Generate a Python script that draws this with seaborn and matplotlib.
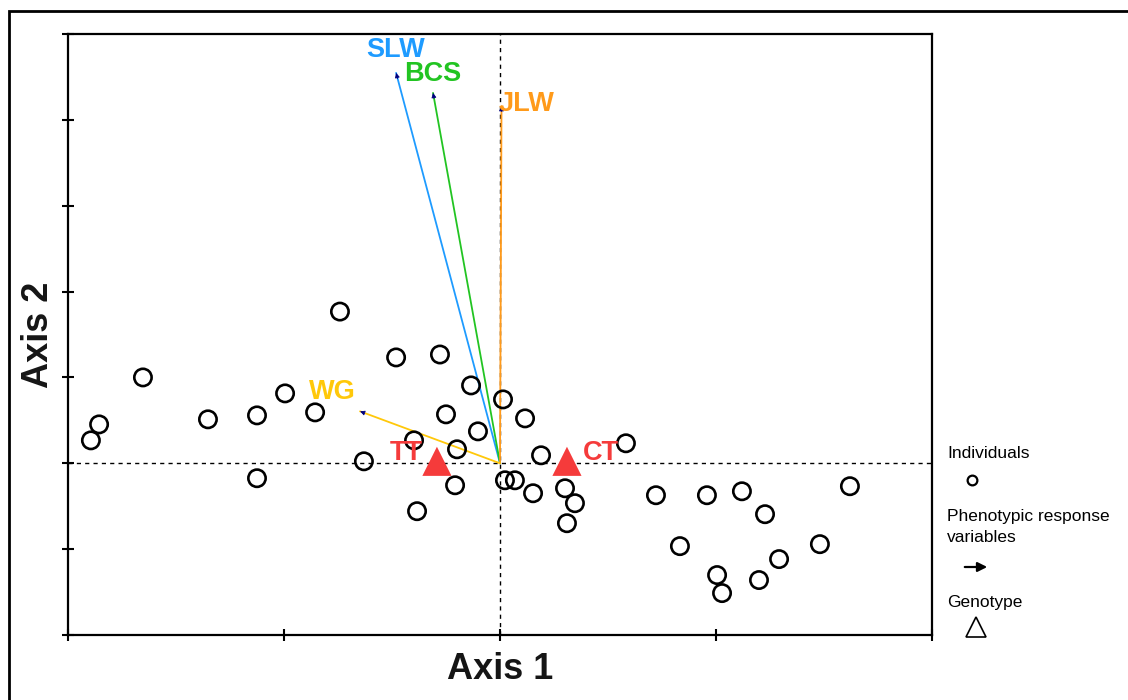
import matplotlib
matplotlib.use("Agg")
import matplotlib.pyplot as plt
import seaborn as sns
import pandas as pd
from matplotlib.patches import Rectangle, FancyArrowPatch
from matplotlib.lines import Line2D

# ---------------- data ----------------
ind_x = [-1.894, -1.856, -1.653, -1.352, -1.125, -1.125, -0.995, -0.856, -0.741, -0.630,
         -0.481, -0.398, -0.384, -0.278, -0.250, -0.199, -0.208, -0.134, -0.102, 0.014,
         0.116, 0.023, 0.069, 0.153, 0.190, 0.301, 0.347, 0.310, 0.583, 0.722,
         0.833, 0.958, 1.005, 1.028, 1.120, 1.227, 1.199, 1.292, 1.481, 1.620]
ind_y = [0.267, 0.453, 1.000, 0.512, 0.558, -0.174, 0.814, 0.593, 1.767, 0.023,
         1.233, 0.267, -0.558, 1.267, 0.570, 0.163, -0.256, 0.907, 0.372, 0.744,
         0.523, -0.198, -0.198, -0.349, 0.093, -0.291, -0.465, -0.698, 0.233, -0.372,
         -0.965, -0.372, -1.302, -1.512, -0.326, -0.593, -1.360, -1.116, -0.942, -0.267]

geno_names = ["TT", "CT"]
geno_x = [-0.292, 0.310]
geno_y = [0.023, 0.023]

var_names = ["SLW", "BCS", "JLW", "WG"]
var_x = [-0.481, -0.310, 0.007, -0.648]
var_y = [4.547, 4.314, 4.160, 0.605]
var_colors = ["#1e9bff", "#22c422", "#ff9a1a", "#ffc80a"]

ind_df = pd.DataFrame({"x": ind_x, "y": ind_y})
geno_df = pd.DataFrame({"x": geno_x, "y": geno_y, "g": geno_names})

# ---------------- figure ----------------
sns.set_theme(style="white")
plt.rcParams["font.family"] = ["Liberation Sans", "DejaVu Sans"]

W, H = 1128, 700
fig = plt.figure(figsize=(W / 100, H / 100), dpi=100)
ax = fig.add_axes([68 / W, 1 - 635 / H, (932 - 68) / W, (635 - 34) / H])

ax.set_xlim(-2, 2)
ax.set_ylim(-2, 5)

# reference lines
ax.axhline(0, color="black", lw=1, ls=(0, (3, 3)), zorder=1)
ax.axvline(0, color="black", lw=1, ls=(0, (3, 3)), zorder=1)

# arrows (phenotypic response variables)
for name, vx, vy, c in zip(var_names, var_x, var_y, var_colors):
    ax.plot([0, vx], [0, vy], color=c, lw=1.3, zorder=2)
    ax.annotate("", xy=(vx, vy), xytext=(vx * 0.985, vy * 0.985),
                arrowprops=dict(arrowstyle="-|>", color="#000080", lw=0.6,
                                mutation_scale=7, shrinkA=0, shrinkB=0), zorder=3)

label_pos = {"SLW": (-0.481, 4.814), "BCS": (-0.310, 4.535),
             "JLW": (0.125, 4.186), "WG": (-0.778, 0.826)}
for name, c in zip(var_names, var_colors):
    lx, ly = label_pos[name]
    ax.text(lx, ly, name, color=c, fontsize=19.5, fontweight="bold",
            ha="center", va="center", zorder=4)

# individuals
sns.scatterplot(data=ind_df, x="x", y="y", ax=ax, marker="o", s=155,
                facecolor="none", edgecolor="black", linewidth=1.9, zorder=3)

# genotypes
sns.scatterplot(data=geno_df, x="x", y="y", ax=ax, marker="^", s=440,
                color="#f53b3b", edgecolor="none", linewidth=0, zorder=4, legend=False)
ax.text(-0.356, 0.116, "TT", color="#f53b3b", fontsize=19.5, fontweight="bold",
        ha="right", va="center", zorder=4)
ax.text(0.384, 0.116, "CT", color="#f53b3b", fontsize=19.5, fontweight="bold",
        ha="left", va="center", zorder=4)

# axes styling
ax.set_xticks([-2, -1, 0, 1, 2])
ax.set_yticks(range(-2, 6))
ax.set_xticklabels([])
ax.set_yticklabels([])
ax.tick_params(axis="both", which="major", direction="inout", length=8, width=1.5,
               color="black", bottom=True, left=True, top=False, right=False)
for s in ax.spines.values():
    s.set_visible(True)
    s.set_color("black")
    s.set_linewidth(1.6)
ax.set_xlabel("Axis 1", fontsize=26, fontweight="bold", labelpad=5, color="#151515")
ax.set_ylabel("Axis 2", fontsize=26, fontweight="bold", labelpad=1, color="#151515")
ax.grid(False)

# outer frame
fig.add_artist(Rectangle((9 / W, -0.1), 1.5, 1 - 11 / H + 0.1, transform=fig.transFigure,
                         fill=False, lw=2, edgecolor="black", clip_on=False))

# legend (manual)
def fx(px):
    return px / W

def fy(py):
    return 1 - py / H

lg_fs = 12.5
fig.text(fx(947), fy(453), "Individuals", fontsize=lg_fs, va="center", ha="left", color="black")
fig.add_artist(Line2D([fx(972)], [fy(480)], marker="o", markersize=7,
                      markerfacecolor="none", markeredgecolor="black", mew=1.6,
                      transform=fig.transFigure))
fig.text(fx(947), fy(517), "Phenotypic response", fontsize=lg_fs, va="center", ha="left", color="black")
fig.text(fx(947), fy(538), "variables", fontsize=lg_fs, va="center", ha="left", color="black")
fig.add_artist(FancyArrowPatch(
    (fx(962), fy(567)), (fx(990), fy(567)), transform=fig.transFigure,
    arrowstyle="-|>", mutation_scale=14, lw=1.6, color="black"))
fig.text(fx(947), fy(602), "Genotype", fontsize=lg_fs, va="center", ha="left", color="black")
fig.add_artist(Line2D([fx(976)], [fy(627)], marker="^", markersize=15,
                      markerfacecolor="none", markeredgecolor="black", mew=1.2,
                      transform=fig.transFigure))

fig.savefig("out.png", dpi=100)
